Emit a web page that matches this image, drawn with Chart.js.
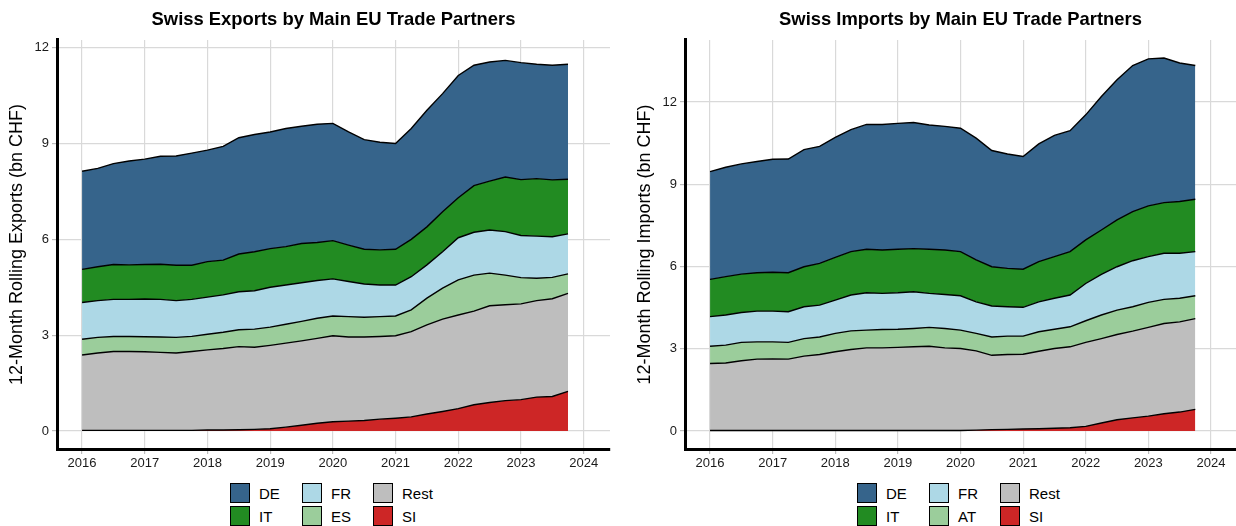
<!DOCTYPE html>
<html>
<head>
<meta charset="utf-8">
<script src="https://cdn.jsdelivr.net/npm/chart.js@4.4.0/dist/chart.umd.min.js"></script>
<style>
html,body{margin:0;padding:0;background:#fff;width:1236px;height:526px;overflow:hidden;font-family:"Liberation Sans",Arial,sans-serif;}
.wrap{position:absolute;top:0;height:470px;}
canvas{display:block;}
.legend{position:absolute;top:483px;height:43px;}
.item{position:absolute;height:21px;line-height:21px;font-size:15px;color:#000;white-space:nowrap;}
.box{position:absolute;left:0;top:0;width:18px;height:18px;border:1.5px solid #000;}
.lab{position:absolute;left:29px;top:0;}
</style>
</head>
<body>
<div class="wrap" style="left:0;width:618px"><canvas id="c1" width="618" height="470"></canvas></div>
<div class="wrap" style="left:628px;width:608px"><canvas id="c2" width="608" height="470"></canvas></div>
<div id="lg1" class="legend" style="left:230px;width:200px"></div>
<div id="lg2" class="legend" style="left:857px;width:200px"></div>
<script>
// ---- categories (quarterly dates) and ticks ----
const quarters = [2016,2016.25,2016.5,2016.75,2017,2017.25,2017.5,2017.75,2018,2018.25,2018.5,2018.75,2019,2019.25,2019.5,2019.75,2020,2020.25,2020.5,2020.75,2021,2021.25,2021.5,2021.75,2022,2022.25,2022.5,2022.75,2023,2023.25,2023.5,2023.75];
const xTicks = [2016,2017,2018,2019,2020,2021,2022,2023,2024];
const yTicks = [0,3,6,9,12];

// ---- series names and colours ----
const exportNames = ['SI','Rest','ES','FR','IT','DE'];
const importNames = ['SI','Rest','AT','FR','IT','DE'];
const seriesColors = {DE:'#36648B', IT:'#228B22', FR:'#ADD8E6', ES:'#9BCD9B', AT:'#9BCD9B', Rest:'#BEBEBE', SI:'#CD2626'};

// ---- exports (bn CHF, 12-month rolling) ----
const expSI   = [0.02,0.02,0.02,0.02,0.02,0.02,0.02,0.02,0.03,0.03,0.04,0.05,0.07,0.12,0.18,0.24,0.29,0.31,0.33,0.37,0.40,0.44,0.53,0.61,0.70,0.82,0.89,0.95,0.98,1.06,1.08,1.24];
const expRest = [2.36,2.42,2.47,2.47,2.46,2.44,2.42,2.47,2.51,2.55,2.60,2.57,2.61,2.63,2.64,2.66,2.69,2.63,2.61,2.59,2.58,2.67,2.79,2.89,2.93,2.93,3.03,3.00,3.00,3.02,3.06,3.07];
const expES   = [0.49,0.49,0.47,0.47,0.47,0.48,0.49,0.47,0.49,0.51,0.53,0.57,0.57,0.59,0.61,0.63,0.62,0.64,0.62,0.62,0.62,0.68,0.84,0.97,1.10,1.13,1.02,0.93,0.82,0.70,0.67,0.61];
const expFR   = [1.15,1.15,1.16,1.16,1.18,1.18,1.15,1.16,1.16,1.17,1.19,1.20,1.25,1.23,1.21,1.18,1.16,1.10,1.04,0.99,0.97,1.04,1.04,1.14,1.32,1.34,1.35,1.36,1.32,1.32,1.27,1.25];
const expIT   = [1.04,1.06,1.09,1.08,1.08,1.10,1.11,1.07,1.11,1.09,1.18,1.22,1.21,1.20,1.23,1.19,1.20,1.14,1.09,1.10,1.12,1.17,1.19,1.25,1.25,1.46,1.53,1.71,1.75,1.80,1.78,1.71];
const expDE   = [3.07,3.08,3.16,3.25,3.30,3.38,3.42,3.51,3.49,3.56,3.64,3.67,3.65,3.70,3.67,3.70,3.67,3.54,3.43,3.37,3.31,3.47,3.65,3.70,3.83,3.77,3.73,3.65,3.66,3.58,3.59,3.60];

// ---- imports (bn CHF, 12-month rolling) ----
const impSI   = [0.02,0.02,0.02,0.02,0.02,0.02,0.02,0.02,0.02,0.02,0.02,0.02,0.02,0.02,0.02,0.02,0.02,0.03,0.05,0.06,0.07,0.08,0.10,0.12,0.17,0.29,0.41,0.48,0.54,0.63,0.69,0.79];
const impRest = [2.44,2.46,2.54,2.60,2.61,2.60,2.71,2.77,2.87,2.95,3.01,3.01,3.03,3.05,3.07,3.01,2.99,2.89,2.71,2.73,2.73,2.83,2.91,2.95,3.06,3.08,3.11,3.16,3.24,3.29,3.29,3.31];
const impAT   = [0.63,0.65,0.67,0.63,0.62,0.61,0.64,0.64,0.67,0.68,0.65,0.67,0.66,0.67,0.69,0.71,0.67,0.64,0.67,0.67,0.66,0.71,0.70,0.73,0.79,0.86,0.89,0.89,0.91,0.88,0.86,0.83];
const impFR   = [1.08,1.10,1.09,1.12,1.12,1.12,1.16,1.16,1.21,1.31,1.36,1.32,1.33,1.34,1.24,1.24,1.25,1.15,1.13,1.07,1.05,1.09,1.13,1.16,1.36,1.48,1.58,1.68,1.67,1.68,1.64,1.61];
const impIT   = [1.36,1.40,1.40,1.40,1.42,1.42,1.46,1.52,1.56,1.58,1.59,1.58,1.59,1.57,1.61,1.62,1.61,1.53,1.43,1.40,1.39,1.47,1.52,1.58,1.59,1.62,1.71,1.79,1.85,1.85,1.89,1.91];
const impDE   = [3.93,3.99,4.02,4.06,4.12,4.15,4.27,4.27,4.38,4.45,4.55,4.58,4.59,4.60,4.53,4.51,4.50,4.44,4.24,4.17,4.11,4.29,4.42,4.41,4.56,4.87,5.11,5.33,5.36,5.27,5.05,4.88];

const legendOrder = [['DE','IT'],['FR','ES'],['Rest','SI']];
const legendOrderImp = [['DE','IT'],['FR','AT'],['Rest','SI']];

const FONT = '"Liberation Sans", Arial, sans-serif';

function makeDatasets(names, series){
  return names.map((n,k)=>({
    label: n,
    data: quarters.map((q,i)=>({x:q, y:series[k][i]})),
    backgroundColor: seriesColors[n],
    borderColor: '#000000',
    borderWidth: 1.4,
    pointRadius: 0,
    pointHoverRadius: 0,
    tension: 0,
    fill: k===0 ? 'origin' : '-1'
  }));
}

function makeChart(id, names, series, title, yTitle, yMin, yMax, xMax, padRight){
  return new Chart(document.getElementById(id), {
    type: 'line',
    data: { datasets: makeDatasets(names, series) },
    options: {
      responsive: false,
      animation: false,
      devicePixelRatio: 1,
      layout: { padding: { left: 0, right: padRight, top: 0, bottom: 0 } },
      plugins: {
        legend: { display: false },
        tooltip: { enabled: false },
        title: {
          display: true, text: title, fullSize: false, color: '#000',
          font: { family: FONT, size: 18.4, weight: 'bold', lineHeight: 1.2 },
          padding: { top: 9, bottom: 8.9 }
        }
      },
      scales: {
        x: {
          type: 'linear', min: 2015.6, max: xMax,
          afterBuildTicks: s => { s.ticks = xTicks.map(v => ({value: v})); },
          afterFit: s => { s.height = 21; },
          grid: { color: '#D9D9D9', lineWidth: 1.2, drawTicks: true, tickLength: 5, tickColor: '#BDBDBD' },
          border: { display: true, color: '#000', width: 3 },
          ticks: { color: '#1a1a1a', font: { family: FONT, size: 13 }, padding: 1.5, maxRotation: 0, autoSkip: false,
                   callback: v => String(v) }
        },
        y: {
          type: 'linear', stacked: true, min: yMin, max: yMax,
          afterBuildTicks: s => { s.ticks = yTicks.map(v => ({value: v})); },
          afterFit: s => { s.width = 57; },
          grid: { color: '#D9D9D9', lineWidth: 1.2, drawTicks: true, tickLength: 5, tickColor: '#BDBDBD' },
          border: { display: true, color: '#000', width: 3 },
          ticks: { color: '#1a1a1a', font: { family: FONT, size: 13 }, padding: 3, callback: v => String(v) },
          title: { display: true, text: yTitle, color: '#000', font: { family: FONT, size: 18 }, padding: { top: 6, bottom: 0 } }
        }
      }
    }
  });
}

makeChart('c1', exportNames, [expSI, expRest, expES, expFR, expIT, expDE],
  'Swiss Exports by Main EU Trade Partners', '12-Month Rolling Exports (bn CHF)', -0.564, 12.24, 2024.42, 8);
makeChart('c2', importNames, [impSI, impRest, impAT, impFR, impIT, impDE],
  'Swiss Imports by Main EU Trade Partners', '12-Month Rolling Imports (bn CHF)', -0.657, 14.26, 2024.4, 0);

function buildLegend(id, order){
  const el = document.getElementById(id);
  const colX = [0, 72, 143];
  const rowY = [0, 23];
  order.forEach((col, c) => col.forEach((name, r) => {
    const it = document.createElement('div');
    it.className = 'item';
    it.style.left = colX[c] + 'px';
    it.style.top = rowY[r] + 'px';
    const b = document.createElement('div');
    b.className = 'box';
    b.style.background = seriesColors[name];
    const t = document.createElement('span');
    t.className = 'lab';
    t.textContent = name;
    it.appendChild(b); it.appendChild(t);
    el.appendChild(it);
  }));
}
buildLegend('lg1', legendOrder);
buildLegend('lg2', legendOrderImp);
</script>
</body>
</html>
